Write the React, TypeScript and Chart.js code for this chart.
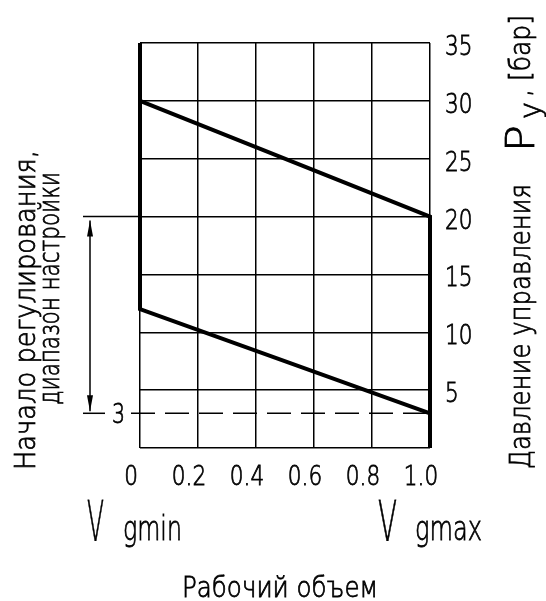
import { useEffect, useRef } from 'react';
import { Chart, registerables } from 'chart.js';

Chart.register(...registerables);

// Relative displacement, Vg / Vgmax
const volumeTickLabels = ['0', '0.2', '0.4', '0.6', '0.8', '1.0'];
const volumeEnds = [0, 1];
// Control pressure, bar
const pressureTickLabels = ['', '5', '10', '15', '20', '25', '30', '35'];
const pressureMax = 35;
// Start of regulation at Vgmin / Vgmax (upper line)
const regulationUpper = [30, 20];
// Lower bound of the setting range at Vgmin / Vgmax
const regulationLower = [12, 3];
// Adjustment range marked with the arrow: [low, high]
const settingRange = [3, 20];

const FAMILY = "'DejaVu Sans', sans-serif";
const INK = '#000';

type TextOpts = {
  font: string;
  width?: number; // stretch to this width
  scaleX?: number; // or condense by this factor
  align?: 'left' | 'center';
  rotate?: boolean;
};

// Thin technical lettering: light face, condensed, with a hairline outline
function drawText(ctx: CanvasRenderingContext2D, text: string, x: number, y: number, o: TextOpts) {
  ctx.save();
  ctx.translate(x, y);
  if (o.rotate) ctx.rotate(-Math.PI / 2);
  ctx.font = o.font;
  ctx.textAlign = 'left';
  ctx.textBaseline = 'alphabetic';
  const w = ctx.measureText(text).width;
  const sx = o.width ? o.width / w : o.scaleX ?? 1;
  const drawn = w * sx;
  if (o.align === 'center') ctx.translate(-drawn / 2, 0);
  ctx.scale(sx, 1);
  ctx.fillStyle = INK;
  ctx.strokeStyle = INK;
  ctx.lineWidth = 0.8;
  ctx.fillText(text, 0, 0);
  ctx.strokeText(text, 0, 0);
  ctx.restore();
}

function arrowHead(ctx: CanvasRenderingContext2D, x: number, tipY: number, dir: number) {
  ctx.beginPath();
  ctx.moveTo(x, tipY);
  ctx.lineTo(x - 3, tipY + dir * 16);
  ctx.lineTo(x + 3, tipY + dir * 16);
  ctx.closePath();
  ctx.fill();
}

const TICK_FONT = `200 27px ${FAMILY}`;
const CAPTION_FONT = `200 29px ${FAMILY}`;

const annotations = {
  id: 'annotations',
  afterDraw(chart: Chart) {
    const { ctx, chartArea } = chart;
    const xs = chart.scales.x;
    const ys = chart.scales.y;
    const yHigh = ys.getPixelForValue(settingRange[1]);
    const yLow = ys.getPixelForValue(settingRange[0]);
    const xRight = xs.getPixelForValue(volumeEnds[1]);
    const extLeft = 83;
    const arrowX = 90;

    ctx.save();

    // tick labels along both scales
    xs.ticks.forEach((t, i) => {
      const px = xs.getPixelForValue(t.value);
      drawText(ctx, volumeTickLabels[i], px - 9, chartArea.bottom + 37, {
        font: TICK_FONT,
        scaleX: 0.8,
        align: 'center',
      });
    });
    ys.ticks.forEach((t, i) => {
      const label = pressureTickLabels[i];
      if (!label) return;
      const py = ys.getPixelForValue(t.value);
      drawText(ctx, label, chartArea.right + 15, py + 12, { font: TICK_FONT, scaleX: 0.8 });
    });

    ctx.strokeStyle = INK;
    ctx.fillStyle = INK;
    ctx.lineWidth = 1.5;

    // extension of the upper setting level
    ctx.beginPath();
    ctx.moveTo(extLeft, yHigh);
    ctx.lineTo(chartArea.left, yHigh);
    ctx.stroke();

    // lower setting level: short stub, label, dashed line
    ctx.beginPath();
    ctx.moveTo(extLeft, yLow);
    ctx.lineTo(105, yLow);
    ctx.stroke();
    ctx.setLineDash([24, 10]);
    ctx.beginPath();
    ctx.moveTo(131, yLow);
    ctx.lineTo(xRight, yLow);
    ctx.stroke();
    ctx.setLineDash([]);

    // dimension arrow
    ctx.beginPath();
    ctx.moveTo(arrowX, yHigh + 4);
    ctx.lineTo(arrowX, yLow - 2);
    ctx.stroke();
    arrowHead(ctx, arrowX, yHigh + 4, 1);
    arrowHead(ctx, arrowX, yLow - 2, -1);

    drawText(ctx, String(settingRange[0]), 112, yLow + 10, { font: TICK_FONT, width: 13 });

    // left caption
    drawText(ctx, 'Начало регулирования,', 35, 470, { font: CAPTION_FONT, width: 320, rotate: true });
    drawText(ctx, 'диапазон настройки', 59, 405, { font: CAPTION_FONT, width: 233, rotate: true });

    // right axis title
    drawText(ctx, 'Давление управления', 530, 469, { font: CAPTION_FONT, width: 285, rotate: true });
    drawText(ctx, 'P', 534, 152, { font: `200 39px ${FAMILY}`, width: 27, rotate: true });
    drawText(ctx, 'у', 540, 119, { font: CAPTION_FONT, width: 17, rotate: true });
    drawText(ctx, ', [бар]', 530, 97, { font: CAPTION_FONT, width: 82, rotate: true });

    // displacement limits
    drawText(ctx, 'V', 87, 540, { font: `200 55px ${FAMILY}`, width: 17 });
    drawText(ctx, 'gmin', 123, 540, { font: `200 34px ${FAMILY}`, width: 59 });
    drawText(ctx, 'V', 378, 540, { font: `200 55px ${FAMILY}`, width: 19 });
    drawText(ctx, 'gmax', 415, 540, { font: `200 34px ${FAMILY}`, width: 67 });

    // x axis title
    drawText(ctx, 'Рабочий объем', 182, 597, { font: `200 28px ${FAMILY}`, width: 196 });

    ctx.restore();
  },
};

export default function App() {
  const canvasRef = useRef<HTMLCanvasElement | null>(null);

  useEffect(() => {
    const canvas = canvasRef.current;
    if (!canvas) return;
    const chart = new Chart(canvas, {
      type: 'scatter',
      data: {
        datasets: [
          {
            label: 'Vgmin / нижняя граница',
            data: [
              { x: volumeEnds[0], y: pressureMax },
              { x: volumeEnds[0], y: regulationLower[0] },
              { x: volumeEnds[1], y: regulationLower[1] },
            ],
            showLine: true,
            borderColor: INK,
            borderWidth: 4,
            pointRadius: 0,
            borderJoinStyle: 'miter',
            clip: false,
          },
          {
            label: 'Начало регулирования / Vgmax',
            data: [
              { x: volumeEnds[0], y: regulationUpper[0] },
              { x: volumeEnds[1], y: regulationUpper[1] },
              { x: volumeEnds[1], y: 0 },
            ],
            showLine: true,
            borderColor: INK,
            borderWidth: 4,
            pointRadius: 0,
            borderJoinStyle: 'miter',
            clip: false,
          },
        ],
      },
      options: {
        animation: false,
        responsive: false,
        events: [],
        layout: { padding: { left: 140, top: 43, right: 0, bottom: 0 } },
        plugins: { legend: { display: false }, tooltip: { enabled: false } },
        scales: {
          x: {
            type: 'linear',
            min: 0,
            max: 1,
            afterFit: (s: any) => {
              s.height = 153;
            },
            border: { display: false },
            grid: { color: INK, lineWidth: 1.5, drawTicks: false },
            ticks: { stepSize: 0.2, display: false },
          },
          y: {
            type: 'linear',
            position: 'right',
            min: 0,
            max: pressureMax,
            afterFit: (s: any) => {
              s.width = 116;
            },
            border: { display: false },
            grid: { color: INK, lineWidth: 1.5, drawTicks: false },
            ticks: { stepSize: 5, display: false },
          },
        },
      },
      plugins: [annotations],
    });
    return () => chart.destroy();
  }, []);

  return (
    <div style={{ position: 'fixed', left: 0, top: 0, width: 546, height: 601, background: '#fff' }}>
      <canvas ref={canvasRef} width={546} height={601} style={{ display: 'block' }} />
    </div>
  );
}
